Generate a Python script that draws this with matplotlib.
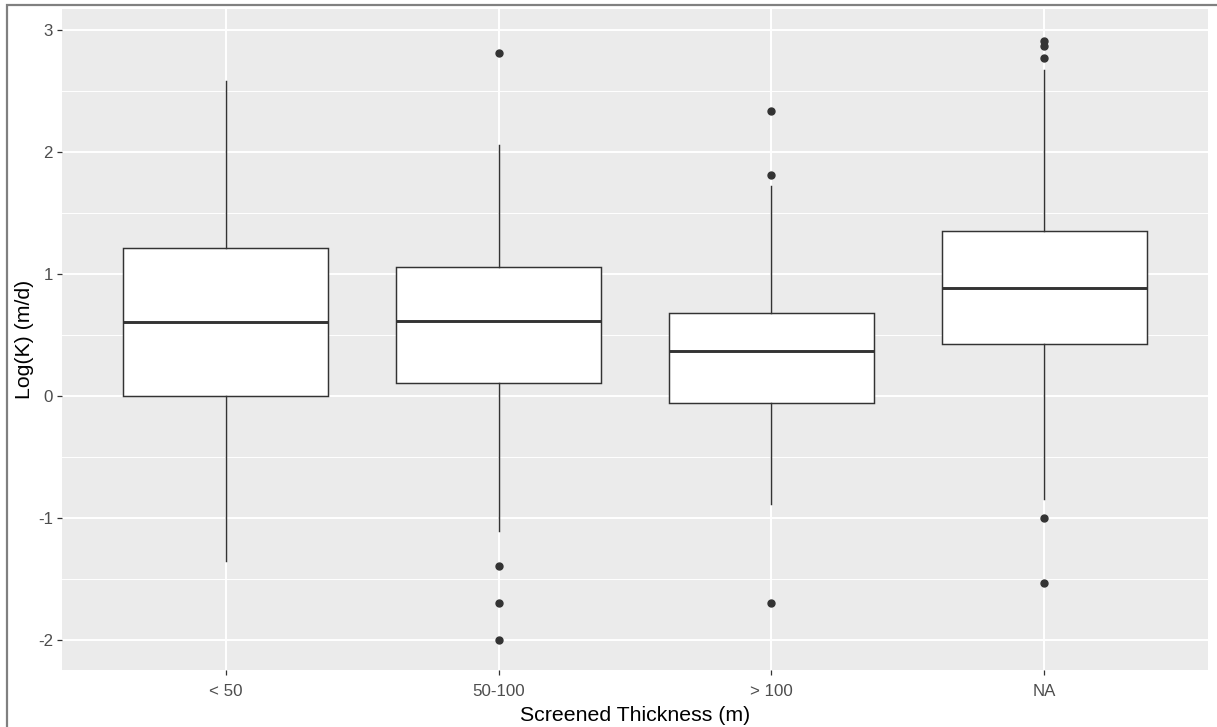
import matplotlib
matplotlib.use("Agg")
import matplotlib.pyplot as plt
from matplotlib.patches import Rectangle

categories = ["< 50", "50-100", "> 100", "NA"]
q1 = [0.00, 0.103, -0.061, 0.425]
med = [0.607, 0.616, 0.370, 0.888]
q3 = [1.213, 1.060, 0.681, 1.354]
whislo = [-1.355, -1.107, -0.889, -0.848]
whishi = [2.58, 2.06, 1.722, 2.668]
fliers = [
    [],
    [2.815, -1.396, -1.70, -1.998],
    [2.333, 1.813, -1.70],
    [2.913, 2.872, 2.772, -1.003, -1.535],
]
yticks = [-2, -1, 0, 1, 2, 3]

W, H = 1217, 727
fig = plt.figure(figsize=(W / 100, H / 100), dpi=100)
fig.patch.set_facecolor("white")

# screenshot border
fig.add_artist(Rectangle((6.5 / W, -0.1), 1.2, 1.1 - 4.5 / H + 0.0,
                         transform=fig.transFigure, fill=False,
                         edgecolor="#808080", linewidth=1.6, zorder=10))

ax = fig.add_axes([62 / W, (H - 670) / H, (1208 - 62) / W, (670 - 9) / H])
ax.set_facecolor("#EBEBEB")

stats = []
for i, c in enumerate(categories):
    stats.append(dict(label=c, q1=q1[i], med=med[i], q3=q3[i],
                      whislo=whislo[i], whishi=whishi[i], fliers=fliers[i]))

pos = list(range(1, len(categories) + 1))
ax.bxp(stats, positions=pos, widths=0.75, patch_artist=True, showcaps=False,
       boxprops=dict(facecolor="white", edgecolor="#333333", linewidth=1.05),
       medianprops=dict(color="#333333", linewidth=2.1, solid_capstyle="butt"),
       whiskerprops=dict(color="#333333", linewidth=1.05),
       flierprops=dict(marker="o", markerfacecolor="#333333", markeredgecolor="#333333",
                       markersize=5, linestyle="none"),
       zorder=3)

ax.set_xlim(0.4, 4.6)
ax.set_ylim(-2.246, 3.172)
ax.set_xticks(pos)
ax.set_xticklabels(categories)
ax.set_yticks(yticks)
ax.set_yticklabels([str(t) for t in yticks])
ax.set_yticks([-1.5, -0.5, 0.5, 1.5, 2.5], minor=True)
ax.set_axisbelow(True)
ax.grid(which="major", color="white", linewidth=1.4)
ax.grid(which="minor", axis="y", color="white", linewidth=0.7)
ax.tick_params(which="minor", length=0)
ax.tick_params(which="major", length=3.5, width=0.9, color="#333333",
               labelcolor="#4D4D4D", labelsize=12.2)
ax.tick_params(axis="x", pad=6.5)
ax.tick_params(axis="y", pad=3)
for s in ax.spines.values():
    s.set_visible(False)

fam = ["Liberation Sans", "DejaVu Sans"]
for lab in ax.get_xticklabels() + ax.get_yticklabels():
    lab.set_family(fam)
ax.set_xlabel("Screened Thickness (m)", fontsize=15.3, family=fam, color="black", labelpad=5)
ax.set_ylabel("Log(K) (m/d)", fontsize=15.3, family=fam, color="black", labelpad=3)

fig.savefig("out.png", dpi=100)
